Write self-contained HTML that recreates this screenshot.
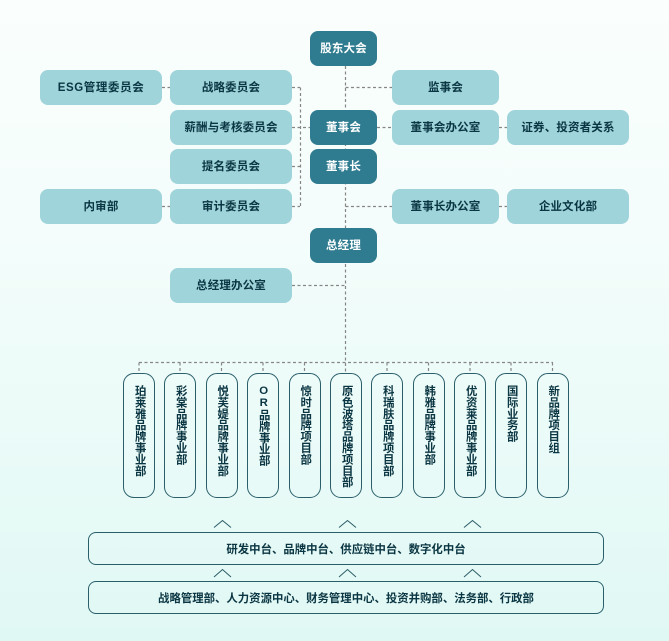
<!DOCTYPE html>
<html lang="zh-CN">
<head>
<meta charset="utf-8">
<title>组织架构图</title>
<style>
*{box-sizing:border-box;margin:0;padding:0}
html,body{width:669px;height:641px;overflow:hidden}
body{position:relative;background:linear-gradient(180deg,#fafefd 0%,#f3fdfb 40%,#e0f8f4 100%);font-family:"Liberation Sans","Noto Sans CJK SC",sans-serif}
svg{position:absolute;left:0;top:0}
.b{position:absolute;display:flex;align-items:center;justify-content:center;font-size:11.5px;font-weight:700;letter-spacing:.15px;white-space:nowrap}
.l{background:#9fd4da;color:#0a3542;border-radius:8px;height:35px;padding-bottom:1px}
.d{background:#2f7c90;color:#fff;border-radius:8px;height:35px;width:67px;left:310px;padding-bottom:1px}
.v{top:373px;width:32px;height:125px;border:1px solid #2a5f6a;border-radius:11px;writing-mode:vertical-rl;text-orientation:upright;align-items:center;justify-content:flex-start;padding-top:11px;padding-bottom:0;color:#0a3542;line-height:1;font-size:11.4px;letter-spacing:0}
.h{left:88px;width:516px;border:1px solid #2a5f6a;border-radius:8px;color:#0a3542;font-size:11.4px;letter-spacing:0}
</style>
</head>
<body>
<svg width="669" height="641" viewBox="0 0 669 641">
<g fill="none" stroke="#868686" stroke-width="1.2" stroke-dasharray="3 2.5">
<path d="M345.5 66V373"/>
<path d="M345.5 87.5H392M345.5 206.5H392M377 127.5H392M499 127.5H507M499 206.5H507"/>
<path d="M162 87.5H170M162 206.5H170"/>
<path d="M292 87.5H300M292 127.5H310M292 166.5H300M292 206.5H300M300.5 87.5V206.5"/>
<path d="M292 285.5H345"/>
<path d="M139 362.5H553"/>
<path d="M139 362.5V373M180 362.5V373M221.500 362.5V373M263 362.5V373M304.500 362.5V373M387 362.5V373M428.500 362.5V373M470 362.5V373M511 362.5V373M552.500 362.500V373"/>
</g>
<g fill="none" stroke="#2c5c66" stroke-width="1">
<path d="M214 527.500L222.500 520.500L231 527.500M339 527.500L347.500 520.500L356 527.500M464 527.500L472.500 520.500L481 527.500"/>
<path d="M214 577L222.500 569.500L231 577M339 577L347.500 569.500L356 577M464 577L472.500 569.500L481 577"/>
</g>
</svg>

<div class="b d" style="top:31px">股东大会</div>
<div class="b d" style="top:110px">董事会</div>
<div class="b d" style="top:149px">董事长</div>
<div class="b d" style="top:228px">总经理</div>

<div class="b l" style="left:40px;top:70px;width:122px;letter-spacing:.6px">ESG管理委员会</div>
<div class="b l" style="left:170px;top:70px;width:122px">战略委员会</div>
<div class="b l" style="left:170px;top:110px;width:122px">薪酬与考核委员会</div>
<div class="b l" style="left:170px;top:149px;width:122px">提名委员会</div>
<div class="b l" style="left:40px;top:189px;width:122px">内审部</div>
<div class="b l" style="left:170px;top:189px;width:122px">审计委员会</div>
<div class="b l" style="left:170px;top:268px;width:122px">总经理办公室</div>

<div class="b l" style="left:392px;top:70px;width:107px">监事会</div>
<div class="b l" style="left:392px;top:110px;width:107px">董事会办公室</div>
<div class="b l" style="left:507px;top:110px;width:122px">证券、投资者关系</div>
<div class="b l" style="left:392px;top:189px;width:107px">董事长办公室</div>
<div class="b l" style="left:507px;top:189px;width:122px">企业文化部</div>

<div class="b v" style="left:123px">珀莱雅品牌事业部</div>
<div class="b v" style="left:164px">彩棠品牌事业部</div>
<div class="b v" style="left:205.500px">悦芙媞品牌事业部</div>
<div class="b v" style="left:247px">OR品牌事业部</div>
<div class="b v" style="left:288.500px">惊时品牌项目部</div>
<div class="b v" style="left:330px">原色波塔品牌项目部</div>
<div class="b v" style="left:371px">科瑞肤品牌项目部</div>
<div class="b v" style="left:412.500px">韩雅品牌事业部</div>
<div class="b v" style="left:454px">优资莱品牌事业部</div>
<div class="b v" style="left:495px">国际业务部</div>
<div class="b v" style="left:536.500px">新品牌项目组</div>

<div class="b h" style="top:532px;height:33px">研发中台、品牌中台、供应链中台、数字化中台</div>
<div class="b h" style="top:581px;height:33px">战略管理部、人力资源中心、财务管理中心、投资并购部、法务部、行政部</div>
</body>
</html>
